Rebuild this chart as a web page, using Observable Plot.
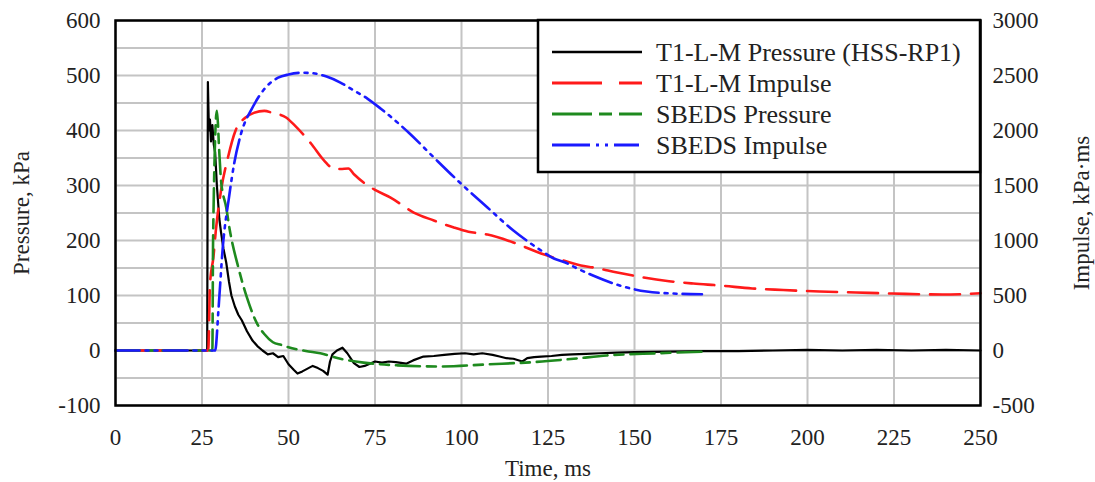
<!DOCTYPE html>
<html>
<head>
<meta charset="utf-8">
<script src="https://cdn.jsdelivr.net/npm/d3@7"></script>
<script src="https://cdn.jsdelivr.net/npm/@observablehq/plot@0.6"></script>
<style>
  html, body { margin: 0; padding: 0; background: #fff; }
  #chart { width: 1095px; height: 482px; }
</style>
</head>
<body>
<div id="chart"></div>
<script>
// ---- Data ----
const seriesNames = ["T1-L-M Pressure (HSS-RP1)", "T1-L-M Impulse", "SBEDS Pressure", "SBEDS Impulse"];

// T1-L-M Pressure, kPa
const t1PressureTime = [0, 26.5, 26.7, 27.0, 27.3, 27.6, 28.0, 28.4, 28.8, 29.3, 30.0, 30.5, 31.2, 32.0, 32.8, 33.5, 34.5, 35.5, 36.5, 38, 39.6, 41, 42.5, 44, 45.5, 47, 48.5, 50, 51.5, 52.6, 54, 55.5, 57, 58.5, 60, 61.3, 62, 62.7, 64, 65.6, 67, 68.9, 70.5, 72, 73.5, 75, 77, 79, 81, 84, 86, 89, 92, 95, 98, 101, 103.5, 106, 109, 111, 113, 115, 117.6, 119, 121, 123, 126, 129, 132, 136, 140, 145, 150, 160, 170, 180, 190, 200, 210, 220, 230, 240, 250];
const t1PressureVal = [0, 0, 488, 400, 420, 380, 410, 375, 360, 300, 240, 215, 185, 160, 125, 100, 80, 65, 55, 35, 18, 8, 0, -7, -5, -12, -10, -25, -35, -42, -38, -33, -28, -32, -37, -44, -20, -7, 0, 5, -5, -23, -30, -28, -24, -20, -22, -20, -21, -24, -18, -11, -10, -8, -6, -5, -7, -5, -8, -11, -14, -15, -20, -14, -12, -11, -10, -8, -7, -6, -5, -4, -3, -2, -1, -1, 0, 1, 0, 1, 0, 1, 0];

// T1-L-M Impulse, kPa·ms
const t1ImpulseTime = [0, 26.8, 27.3, 28.3, 29, 30.5, 32.5, 34.7, 37.6, 40, 43, 45.4, 49.3, 52, 56.5, 60.3, 63, 65, 67.3, 69, 71.7, 75, 79.5, 86.2, 92, 97.8, 102, 107.5, 115, 123, 128.5, 134.5, 138, 145, 152.5, 160, 167, 175, 184, 193, 203.5, 214, 224.5, 239, 250];
const t1ImpulseVal = [0, 0, 600, 850, 1091, 1455, 1755, 2000, 2118, 2160, 2178, 2160, 2118, 2040, 1882, 1727, 1654, 1650, 1654, 1600, 1527, 1460, 1390, 1254, 1182, 1118, 1080, 1054, 982, 882, 827, 773, 755, 710, 664, 630, 609, 590, 564, 550, 536, 527, 518, 509, 520];

// SBEDS Pressure, kPa
const sbedsPressureTime = [0, 28, 28.2, 29.3, 30, 30.5, 32, 33, 35.5, 38, 41, 43, 45.5, 48, 50, 52.6, 55, 59.2, 65, 71.7, 81.5, 94, 108, 121, 132.4, 142, 156.6, 171];
const sbedsPressureVal = [0, 0, 200, 436, 360, 309, 260, 220, 151, 96, 48, 30, 15, 10, 6, 2, -1, -5, -15, -22, -27, -29, -25, -21, -15, -9, -5, -2];

// SBEDS Impulse, kPa·ms
const sbedsImpulseTime = [0, 28.8, 29.8, 31, 32.8, 34.3, 36.3, 39.6, 43.4, 47, 50, 54, 57.2, 61, 65, 68, 72.8, 76.6, 84.7, 92, 99.8, 107.5, 115, 123, 126.7, 130, 133.5, 138, 145.7, 153.5, 161, 169.5];
const sbedsImpulseVal = [0, 0, 391, 936, 1391, 1700, 1973, 2209, 2391, 2480, 2509, 2525, 2520, 2490, 2436, 2380, 2290, 2200, 1982, 1755, 1518, 1300, 1091, 909, 836, 800, 745, 682, 591, 536, 518, 512];

// Axes ticks
const timeTicks = [0, 25, 50, 75, 100, 125, 150, 175, 200, 225, 250];
const pressureTicks = [-100, 0, 100, 200, 300, 400, 500, 600];
const impulseTicks = [-500, 0, 500, 1000, 1500, 2000, 2500, 3000];
const pressureGrid = [-100, -50, 0, 50, 100, 150, 200, 250, 300, 350, 400, 450, 500, 550, 600];

// impulse axis is the pressure axis times this factor
const impulsePerPressure = 5;

const toRows = (ts, vs) => ts.map((t, i) => ({t, v: vs[i]}));
const t1P = toRows(t1PressureTime, t1PressureVal);
const t1I = toRows(t1ImpulseTime, t1ImpulseVal);
const sbP = toRows(sbedsPressureTime, sbedsPressureVal);
const sbI = toRows(sbedsImpulseTime, sbedsImpulseVal);

const colors = ["#000000", "#ff1a1a", "#1e8a1e", "#1a1aff"];
const dashes = [null, "30,11", "24,7,9,7", "24,6,3,6,3,6"];

const font = "'Liberation Serif', 'Times New Roman', serif";
const fmt = d => String(Math.round(d));

const plot = Plot.plot({
  width: 1095,
  height: 482,
  marginLeft: 115,
  marginRight: 115,
  marginTop: 20,
  marginBottom: 77,
  style: {fontFamily: font, fontSize: "23px", color: "#222", background: "#fff"},
  x: {domain: [0, 250]},
  y: {domain: [-100, 600]},
  marks: [
    Plot.gridX(timeTicks, {stroke: "#c4c4c4", strokeOpacity: 1, strokeWidth: 2}),
    Plot.gridY(pressureGrid, {stroke: "#c4c4c4", strokeOpacity: 1, strokeWidth: 2}),
    Plot.axisX(timeTicks, {tickSize: 0, tickPadding: 23, tickFormat: fmt, label: "Time, ms", labelAnchor: "center", labelArrow: "none", labelOffset: 70, fontSize: 23}),
    Plot.axisY(pressureTicks, {anchor: "left", tickSize: 0, tickPadding: 15, tickFormat: fmt, label: "Pressure, kPa", labelAnchor: "center", labelArrow: "none", labelOffset: 103, fontSize: 23}),
    Plot.axisY(impulseTicks.map(v => v / impulsePerPressure), {anchor: "right", tickSize: 0, tickPadding: 12, tickFormat: d => fmt(d * impulsePerPressure), label: "Impulse, kPa·ms", labelAnchor: "center", labelArrow: "none", labelOffset: 108, fontSize: 23}),
    Plot.line(t1P, {x: "t", y: "v", stroke: colors[0], strokeWidth: 2.2}),
    Plot.line(t1I, {x: "t", y: d => d.v / impulsePerPressure, stroke: colors[1], strokeWidth: 2.6, strokeDasharray: dashes[1], curve: "monotone-x"}),
    Plot.line(sbP, {x: "t", y: "v", stroke: colors[2], strokeWidth: 2.6, strokeDasharray: dashes[2], curve: "monotone-x"}),
    Plot.line(sbI, {x: "t", y: d => d.v / impulsePerPressure, stroke: colors[3], strokeWidth: 2.6, strokeDasharray: dashes[3], curve: "monotone-x"}),
    Plot.frame({stroke: "#000", strokeWidth: 2.5})
  ]
});

document.getElementById("chart").appendChild(plot);

// Legend box (inside the plot, top-right)
const svg = d3.select(plot);
const lg = svg.append("g").attr("font-family", font).attr("font-size", 26).attr("fill", "#222").attr("text-anchor", "start");
lg.append("rect").attr("x", 538).attr("y", 20).attr("width", 442).attr("height", 152)
  .attr("fill", "#fff").attr("stroke", "#000").attr("stroke-width", 2.5);
seriesNames.forEach((name, i) => {
  const cy = 52 + i * 31;
  lg.append("line").attr("x1", 552).attr("x2", 642).attr("y1", cy).attr("y2", cy)
    .attr("stroke", colors[i]).attr("stroke-width", i === 0 ? 2.6 : 2.8)
    .attr("stroke-dasharray", i === 0 ? null : (i === 1 ? "50,17,23" : i === 2 ? "40,7,13,7,23" : "38,6,3,6,3,6,25"));
  lg.append("text").attr("x", 656).attr("y", cy).attr("dy", "0.35em").attr("text-anchor", "start").text(name);
});
</script>
</body>
</html>
